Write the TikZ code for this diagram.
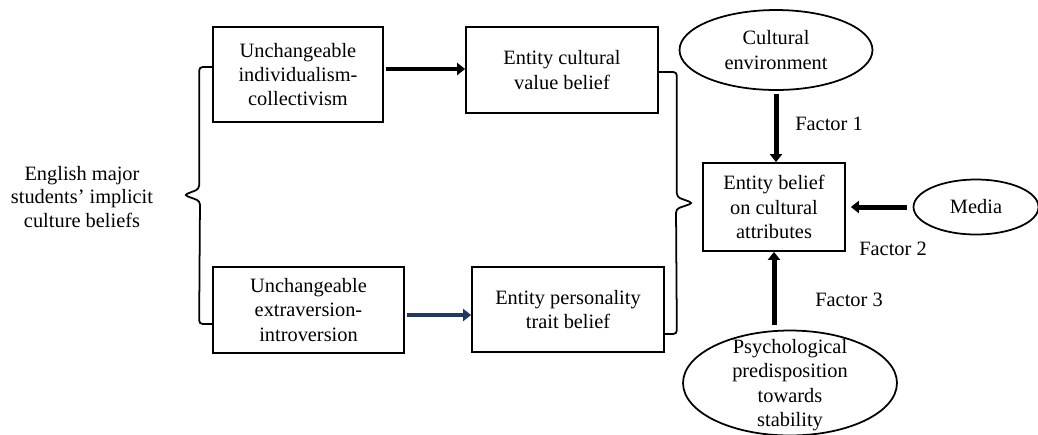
\documentclass[tikz,border=0pt]{standalone}
\usepackage{fontspec}
\setmainfont{Liberation Serif}
\usetikzlibrary{arrows.meta,shapes.geometric}
\definecolor{navy}{HTML}{1F3864}

\begin{document}
\begin{tikzpicture}[x=0.02cm, y=-0.02cm,
    every node/.style={font=\fontsize{11.6}{13.9}\selectfont, align=center},
    beliefbox/.style={draw, line width=1pt, inner sep=0pt},
    factor/.style={draw, ellipse, line width=1pt, inner sep=0pt},
    bigarrow/.style={line width=0.1cm, -{Triangle[length=0.16cm, width=0.24cm]}},
    bracket/.style={line width=1pt, rounded corners=2pt}]
        % Page
        \useasboundingbox (0,0) rectangle (1038,434);

        % Left side
        \node[font=\fontsize{11.6}{13.4}\selectfont] (root) at (82,197) {English major\\students’ implicit\\culture beliefs};
        \node[beliefbox, minimum width=3.4cm, minimum height=1.9cm] (ua) at (298,74.5) {Unchangeable\\individualism-\\collectivism};
        \node[beliefbox, minimum width=3.82cm, minimum height=1.72cm] (uc) at (308.5,310) {Unchangeable\\extraversion-\\introversion};

        % Entity beliefs
        \node[beliefbox, minimum width=3.84cm, minimum height=1.72cm] (ub) at (562,70) {Entity cultural\\value belief};
        \node[beliefbox, minimum width=3.84cm, minimum height=1.7cm] (ud) at (568,309.5) {Entity personality\\trait belief};
        \node[beliefbox, minimum width=2.84cm, minimum height=1.76cm] (eb) at (774,207) {Entity belief\\on cultural\\attributes};

        % Factors
        \node[factor, minimum width=3.86cm, minimum height=1.6cm] (ce) at (776,50) {Cultural\\environment};
        \node[factor, minimum width=2.5cm, minimum height=1.1cm] (media) at (976,207) {Media};
        \node[factor, minimum width=4.28cm, minimum height=2.1cm] (psy) at (790,383) {};
        \node[inner sep=0pt] (psytext) at (790,385) {Psychological\\predisposition\\towards\\stability};

        % Brackets
        \coordinate (ltip) at (184,195);
        \coordinate (rtip) at (693,203);
        \draw[bracket] ([yshift=0.15cm]ua.west) -- ++(-13,0) -- ++(0,122) -- (ltip) -- ++(16,6) -- ([xshift=-0.26cm,yshift=-0.28cm]uc.west) -- ([yshift=-0.28cm]uc.west);
        \draw[bracket] ([yshift=-0.04cm]ub.east) -- ++(18,0) -- ++(0,125) -- (rtip) -- ++(-17,6) -- ([xshift=0.24cm,yshift=-0.49cm]ud.east) -- ([yshift=-0.49cm]ud.east);

        % Arrows
        \draw[bigarrow, line width=0.085cm, shorten <=0.04cm] ([yshift=0.11cm]ua.east) coordinate (a1) -- (a1 -| ub.west);
        \draw[bigarrow, navy, line width=0.065cm, shorten <=0.04cm] ([yshift=-0.1cm]uc.east) coordinate (c1) -- (c1 -| ud.west);
        \draw[bigarrow, shorten <=0.06cm] (ce.south) -- (ce.south |- eb.north);
        \draw[bigarrow, shorten <=0.12cm, shorten >=0.1cm] (media.west) -- (eb.east);
        \draw[bigarrow, shorten <=0.1cm] (psy.north -| eb.south) -- (eb.south);

        % Factor labels
        \node (f1) at (829,124) {Factor 1};
        \node (f2) at (893,249) {Factor 2};
        \node (f3) at (849,300) {Factor 3};
      \end{tikzpicture}
\end{document}
